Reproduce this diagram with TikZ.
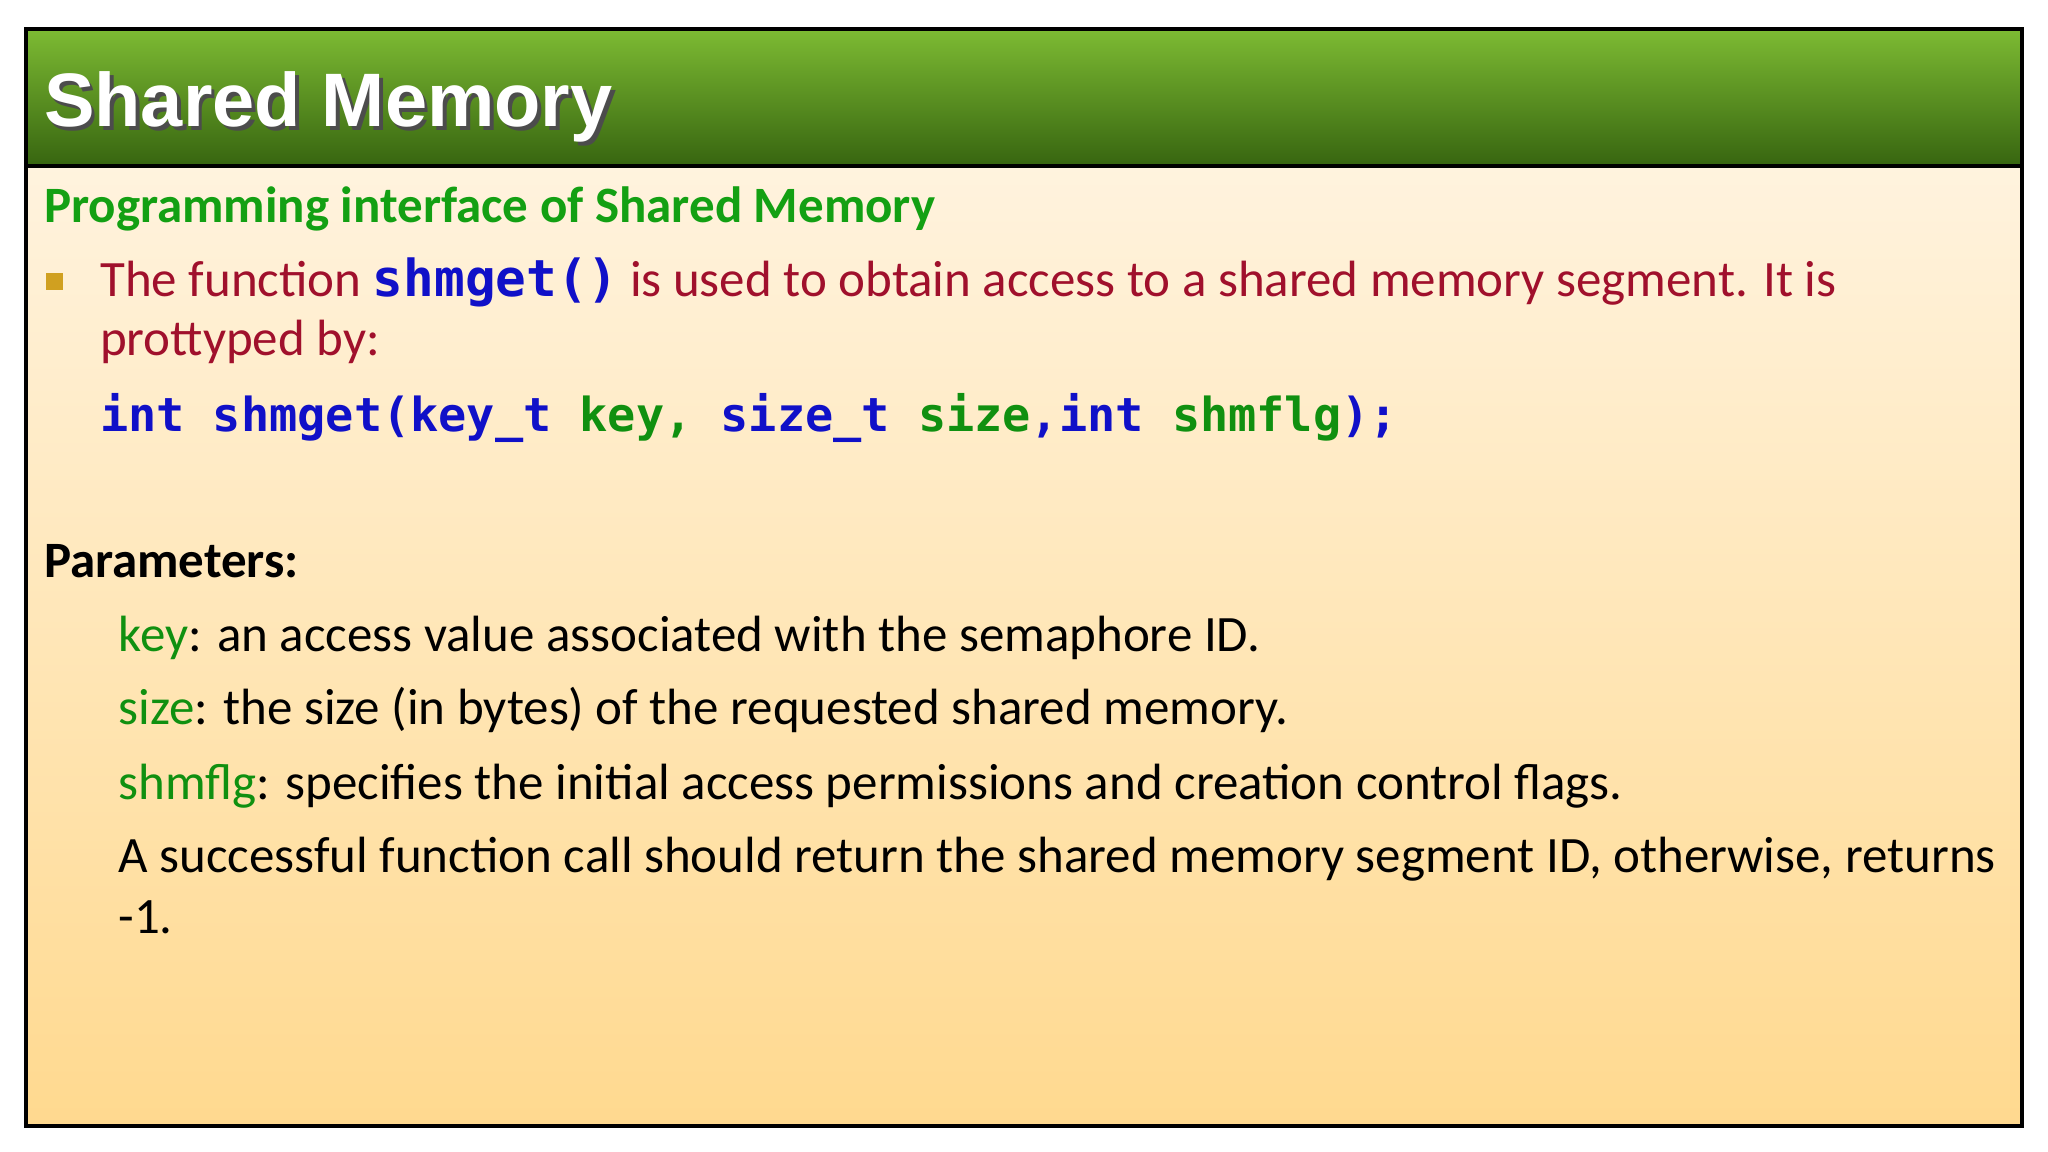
\documentclass[tikz,border=0pt]{standalone}
\usepackage{fontspec}
\setmainfont{Carlito}
\newfontfamily\titlefont{Liberation Sans}
\newfontfamily\codefont{DejaVu Sans Mono}
\definecolor{hdtop}{HTML}{7DBB33}
\definecolor{hdbot}{HTML}{376510}
\definecolor{bgtop}{HTML}{FFF3DE}
\definecolor{bgbot}{HTML}{FFD98F}
\definecolor{subgreen}{HTML}{13A013}
\definecolor{redtxt}{HTML}{A0102C}
\definecolor{codeblue}{HTML}{1010C8}
\definecolor{codegreen}{HTML}{109010}
\definecolor{bullet}{HTML}{D0A020}
\tikzset{
  txt/.style={anchor=base west, inner sep=0pt, font=\fontsize{11.1pt}{13pt}\selectfont},
}
\newcommand{\cb}[1]{\textcolor{codeblue}{#1}}
\newcommand{\cg}[1]{\textcolor{codegreen}{#1}}
\begin{document}
\begin{tikzpicture}[x=0.01cm,y=-0.01cm]
\useasboundingbox[fill=white] (0,0) rectangle (1568,882);
\shade[top color=bgtop,bottom color=bgbot] (20,127) rectangle (1548,862);
\shade[top color=hdtop,bottom color=hdbot] (20,22) rectangle (1548,127);
\draw[line width=0.9pt] (20,127) -- (1548,127);
\draw[line width=0.9pt] (20,22) rectangle (1548,862);
\node[anchor=base west,inner sep=0pt,text=black!70,font=\titlefont\bfseries\fontsize{16.5pt}{20pt}\selectfont] at (36,100) {Shared Memory};
\node (title) [anchor=base west,inner sep=0pt,text=white,font=\titlefont\bfseries\fontsize{16.5pt}{20pt}\selectfont] at (33,97) {Shared Memory};
\node (sub) [txt,text=subgreen,font=\bfseries\fontsize{11.1pt}{13pt}\selectfont] at (33,170) {Programming interface of Shared Memory};
\fill[bullet] (35,209) rectangle (48,222);
\node (b1) [txt,text=redtxt] at (76,227) {The function {\codefont\bfseries\color{codeblue}shmget()} is used to obtain access to a shared memory segment. It is};
\node (b2) [txt,text=redtxt] at (76,272) {prottyped by:};
\node (code) [txt,font=\codefont\bfseries\fontsize{10.2pt}{12pt}\selectfont] at (76,330) {\cb{int shmget(key\_t} \cg{key,} \cb{size\_t} \cg{size}\cb{,int} \cg{shmflg}\cb{);}};
\node (par) [txt,font=\bfseries\fontsize{11.1pt}{13pt}\selectfont] at (33,442) {Parameters:};
\node (p1) [txt] at (90,499) {\textcolor{codegreen}{key}: an access value associated with the semaphore ID.};
\node (p2) [txt] at (90,555) {\textcolor{codegreen}{size}: the size (in bytes) of the requested shared memory.};
\node (p3) [txt] at (90,612) {\textcolor{codegreen}{shmflg}: specifies the initial access permissions and creation control flags.};
\node (p4) [txt] at (90,668) {A successful function call should return the shared memory segment ID, otherwise, returns};
\node (p5) [txt] at (90,715) {-1.};
\end{tikzpicture}
\end{document}
